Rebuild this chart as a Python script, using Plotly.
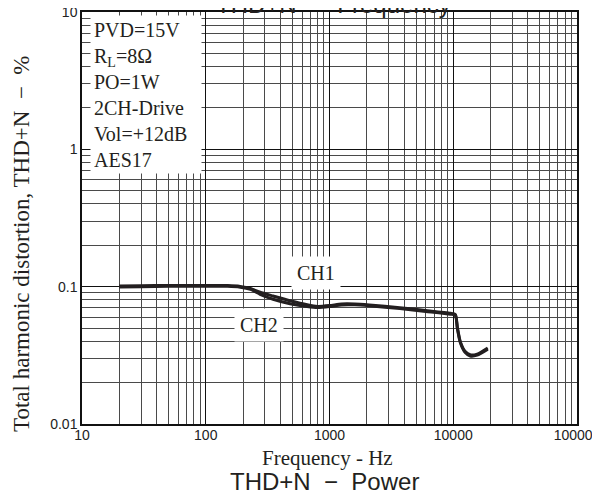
import numpy as np
import plotly.graph_objects as go

# THD+N vs frequency
freq_ch1 = [20, 30, 50, 100, 150, 190, 230, 275, 350, 480, 660, 800, 1000, 1250,
            1600, 2100, 3700, 6000, 9500, 10400, 10800, 11400, 12500, 13700, 15600, 19000]
thd_ch1 = [0.101, 0.1015, 0.102, 0.102, 0.102, 0.1005, 0.097, 0.091, 0.0855, 0.079,
           0.0738, 0.0718, 0.0728, 0.0748, 0.0748, 0.0736, 0.0703, 0.0671, 0.064, 0.0628,
           0.0505, 0.0398, 0.0337, 0.0319, 0.0323, 0.0358]

freq_ch2 = [20, 30, 50, 100, 150, 190, 230, 275, 350, 480, 660, 800, 1000, 1250,
            1600, 2100, 3700, 6000, 9500, 10400, 10800, 11400, 12500, 13700, 15600, 19000]
thd_ch2 = [0.0995, 0.1, 0.1005, 0.1005, 0.1005, 0.099, 0.0955, 0.088, 0.081, 0.0752,
           0.0716, 0.0705, 0.0716, 0.0736, 0.0737, 0.0725, 0.0692, 0.066, 0.063, 0.0618,
           0.0495, 0.0392, 0.0331, 0.0313, 0.0317, 0.0351]

x_tick_vals = [10, 100, 1000, 10000, 100000]
x_tick_text = ["10", "100", "1000", "10000", "100000"]
y_tick_vals = [0.01, 0.1, 1, 10]
y_tick_text = ["0.01", "0.1", "1", "10"]

conditions = ["PVD=15V", "R<sub>L</sub>=8Ω", "PO=1W", "2CH-Drive", "Vol=+12dB", "AES17"]

ch_labels = ["CH1", "CH2"]
ch_label_freq = [778, 268]
ch_label_thd = [0.1255, 0.0523]

# the page body keeps its default 8px margin, so the figure is drawn 8px in
OFF = 8
W, H = 600 - OFF, 499 - OFF
L, R, T, B = 82 - OFF, 23, 12 - OFF, 75
SERIF = "Liberation Serif, Times New Roman, serif"
SANS = "Liberation Sans, Arial, sans-serif"
INK = "#231f20"
NB = "\u00a0"


def px(x):
    # page pixel -> paper x
    return (x - OFF - L) / (W - L - R)


def py(y):
    # page pixel -> paper y
    return (H - B - (y - OFF)) / (H - T - B)


minor_x = [m * 10 ** e for e in range(1, 5) for m in range(2, 10)]
minor_y = [m * 10.0 ** e for e in range(-2, 1) for m in range(2, 10)]

fig = go.Figure()
fig.add_trace(go.Scatter(x=freq_ch1, y=thd_ch1, mode="lines", name="CH1",
                         line=dict(color=INK, width=3, shape="spline", smoothing=0.6)))
fig.add_trace(go.Scatter(x=freq_ch2, y=thd_ch2, mode="lines", name="CH2",
                         line=dict(color=INK, width=3, shape="spline", smoothing=0.6)))

axis_common = dict(showline=True, mirror=True, linecolor="#111", linewidth=1.5,
                   showgrid=True, gridcolor="#111", gridwidth=1, ticks="",
                   zeroline=False, automargin=False, ticklabeloverflow="allow",
                   tickfont=dict(family=SANS, size=14, color="#222"))

fig.update_xaxes(type="log", range=[1, 5], tickmode="array",
                 tickvals=x_tick_vals, ticktext=x_tick_text, ticklabelstandoff=-3,
                 minor=dict(tickmode="array", tickvals=minor_x, showgrid=True,
                            gridcolor="#4a4a4a", gridwidth=1, ticks=""),
                 **axis_common)
fig.update_yaxes(type="log", range=[-2, 1], tickmode="array",
                 tickvals=y_tick_vals, ticktext=y_tick_text,
                 minor=dict(tickmode="array", tickvals=minor_y, showgrid=True,
                            gridcolor="#4a4a4a", gridwidth=1, ticks=""),
                 **axis_common)

annotations = []
# condition box
annotations.append(dict(xref="paper", yref="paper", x=px(90), y=py(15),
                        xanchor="left", yanchor="top", align="left", valign="top",
                        width=104, height=151, showarrow=False,
                        text="<br>".join(conditions), bgcolor="white", borderpad=3,
                        font=dict(family=SERIF, size=20, color=INK)))
# channel labels
for lbl, f, v in zip(ch_labels, ch_label_freq, ch_label_thd):
    annotations.append(dict(xref="x", yref="y", x=np.log10(f), y=np.log10(v),
                            xanchor="center", yanchor="middle",
                            text=lbl, showarrow=False, bgcolor="white", borderpad=5,
                            font=dict(family=SERIF, size=20, color=INK)))
# titles
dash = NB * 2 + "\u2212" + NB * 2
titles = [
    (21, 244, "Total harmonic distortion, THD+N" + dash + "%", SERIF, 23, -90),
    (327, 458, "Frequency - Hz", SERIF, 21, 0),
    (324, 481, "THD+N" + dash + "Power", SANS, 24, 0),
    (333, 4, "THD+N" + dash + "Frequency", SANS, 24, 0),
]
for x, y, text, fam, size, ang in titles:
    annotations.append(dict(xref="paper", yref="paper", x=px(x), y=py(y),
                            xanchor="center", yanchor="middle", text=text,
                            textangle=ang, showarrow=False,
                            font=dict(family=fam, size=size, color=INK)))

fig.update_layout(width=W, height=H, margin=dict(l=L, r=R, t=T, b=B),
                  plot_bgcolor="white", paper_bgcolor="white", showlegend=False,
                  annotations=annotations)

fig.write_html("out.html")
